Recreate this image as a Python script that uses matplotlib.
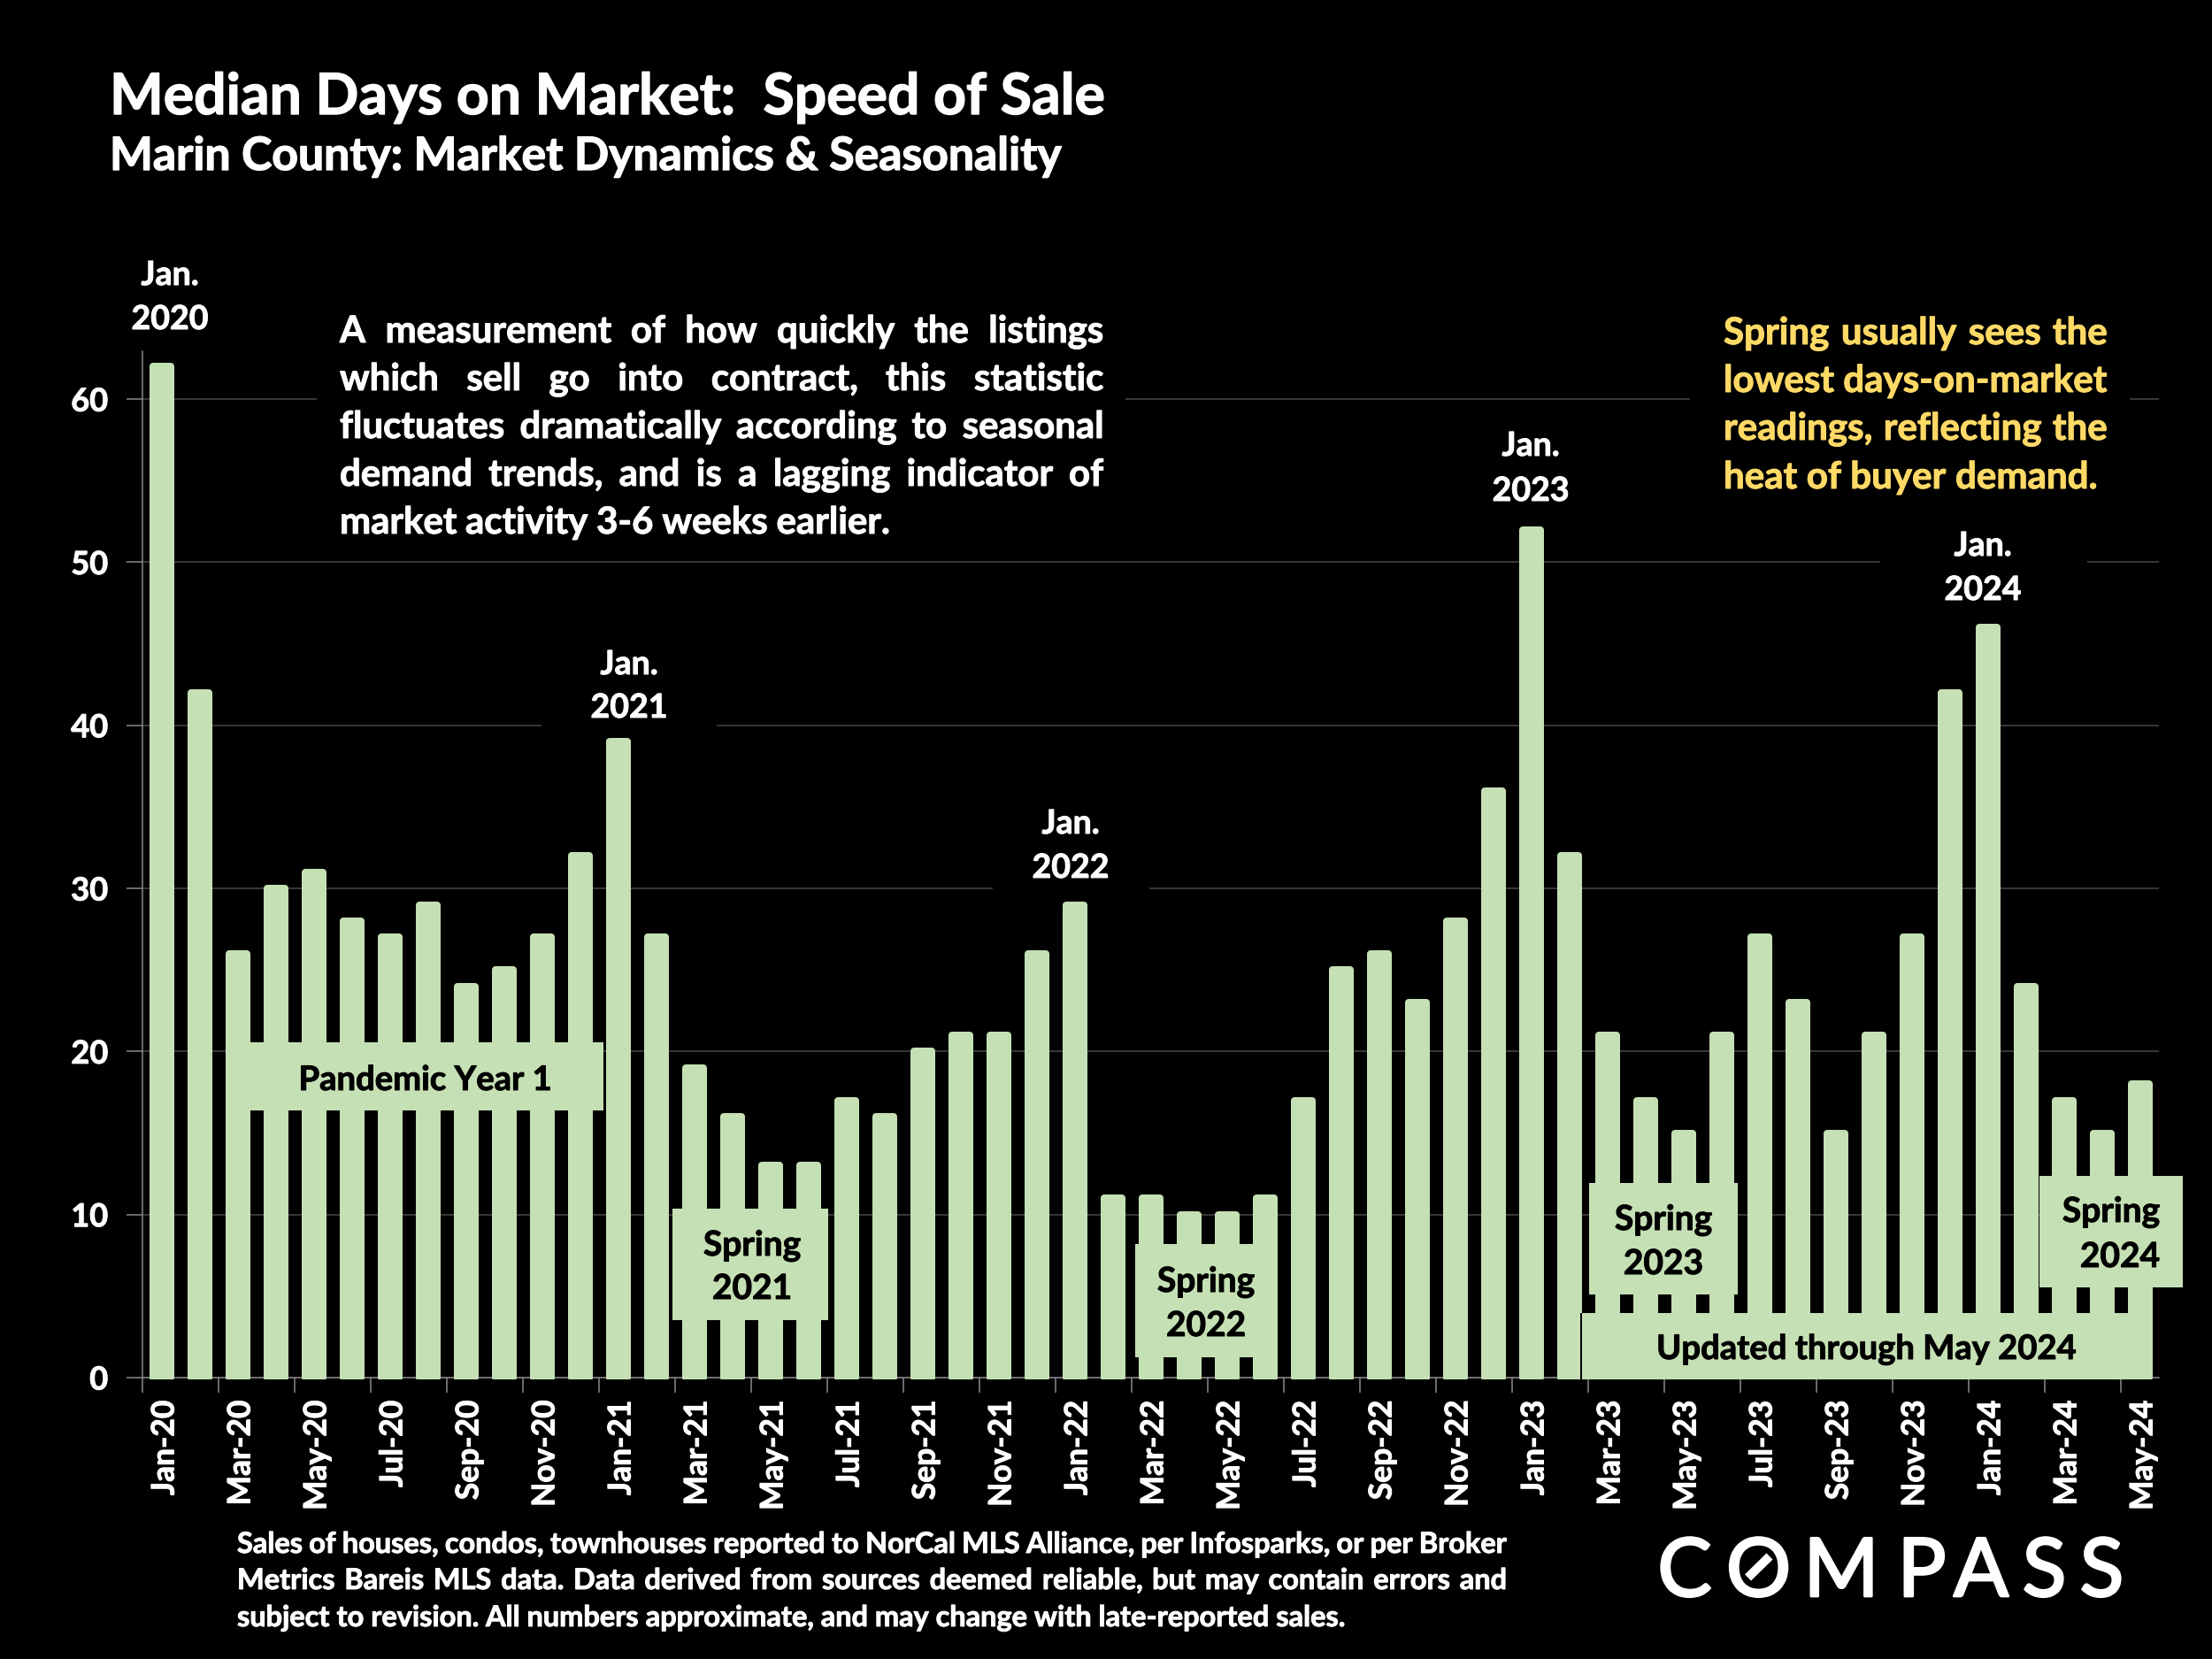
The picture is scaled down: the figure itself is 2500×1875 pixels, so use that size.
import numpy as np
import matplotlib
matplotlib.use("Agg")
import matplotlib.pyplot as plt
import matplotlib.patheffects as pe
from matplotlib.patches import Rectangle
from matplotlib.transforms import Affine2D, Bbox

months = ["Jan-20","Feb-20","Mar-20","Apr-20","May-20","Jun-20","Jul-20","Aug-20","Sep-20","Oct-20","Nov-20","Dec-20",
          "Jan-21","Feb-21","Mar-21","Apr-21","May-21","Jun-21","Jul-21","Aug-21","Sep-21","Oct-21","Nov-21","Dec-21",
          "Jan-22","Feb-22","Mar-22","Apr-22","May-22","Jun-22","Jul-22","Aug-22","Sep-22","Oct-22","Nov-22","Dec-22",
          "Jan-23","Feb-23","Mar-23","Apr-23","May-23","Jun-23","Jul-23","Aug-23","Sep-23","Oct-23","Nov-23","Dec-23",
          "Jan-24","Feb-24","Mar-24","Apr-24","May-24"]
days = [62,42,26,30,31,28,27,29,24,25,27,32,
        39,27,19,16,13,13,17,16,20,21,21,26,
        29,11,11,10,10,11,17,25,26,23,28,36,
        52,32,21,17,15,21,27,23,15,21,27,42,
        46,24,17,15,18]
y_ticks = [0,10,20,30,40,50,60]

BG = "black"; BAR = "#C5E0B4"; GRID = "#4A4A4A"; AXIS = "#8C8C8C"; GOLD = "#FFD966"
W, H = 2500, 1875
plt.rcParams['font.family'] = ['Lato', 'DejaVu Sans']
plt.rcParams['font.weight'] = 'bold'

fig = plt.figure(figsize=(25, 18.75), dpi=100, facecolor=BG)
L, R, T, B = 161, 2440, 397, 1557
ax = fig.add_axes([L/W, 1-B/H, (R-L)/W, (B-T)/H], facecolor=BG)
px = 0.72  # points per pixel at dpi 100

def heavy(c, w=0.7):
    return [pe.withStroke(linewidth=w, foreground=c)]

x = np.arange(len(days))
bars = ax.bar(x+0.01, days, width=0.475, color=BAR, edgecolor=BAR, linewidth=8*px, joinstyle='round', zorder=3)
for b in bars:
    b.set_clip_path(None)
    b.set_clip_box(Bbox([[0, H-1559], [W, H]]))
ax.set_xlim(-0.5, len(days)-0.5)
ax.set_ylim(0, 62.94)
ax.set_yticks(y_ticks)
ax.yaxis.grid(True, color=GRID, linewidth=1.5*px, zorder=0)
ax.set_axisbelow(True)
ax.set_xticks(x[::2]-0.5)
ax.set_xticklabels([])
ax.set_xticks(x[::2], labels=months[::2], minor=True)
ax.tick_params(axis='x', which='major', length=12, width=1.5*px, color=AXIS)
ax.tick_params(axis='x', which='minor', length=0, pad=18.5, labelsize=25.5, labelcolor='white', labelrotation=90)
for t in ax.get_xticklabels(minor=True):
    t.set_va('top'); t.set_ha('center'); t.set_fontweight('bold')
    t.set_path_effects(heavy('white'))
    t.set_transform(t.get_transform() + Affine2D().translate(4, 0))
ax.tick_params(axis='y', length=13, width=1.5*px, color=AXIS, pad=15, labelsize=26, labelcolor='white')
for t in ax.get_yticklabels():
    t.set_fontweight('bold')
    t.set_path_effects(heavy('white'))
for s in ['top','right']:
    ax.spines[s].set_visible(False)
for s in ['left','bottom']:
    ax.spines[s].set_color(AXIS); ax.spines[s].set_linewidth(1.5*px)

# pixel-space overlay
ov = fig.add_axes([0,0,1,1], facecolor='none')
ov.set_xlim(0, W); ov.set_ylim(H, 0); ov.axis('off')
renderer = fig.canvas.get_renderer()

def box(x0, y0, x1, y1, color):
    ov.add_patch(Rectangle((x0,y0), x1-x0, y1-y0, facecolor=color, edgecolor='none', zorder=5))

def txt(x, y, s, size, color='white', ha='left', w=0.7, **kw):
    return ov.text(x, y, s, fontsize=size, color=color, ha=ha, va='baseline', fontweight='bold', zorder=6,
                   path_effects=heavy(color, w), **kw)

def width_of(s, size):
    t = ov.text(0, 0, s, fontsize=size, fontweight='bold')
    wd = t.get_window_extent(renderer).width
    t.remove()
    return wd

def justified(x0, x1, y, line, size, color='white', justify=True):
    words = line.split()
    ws = [width_of(w, size) for w in words]
    if justify and len(words) > 1:
        gap = (x1-x0-sum(ws))/(len(words)-1)
    else:
        gap = width_of("a b", size)-width_of("ab", size)
    cx = x0
    for w, wd in zip(words, ws):
        txt(cx, y, w, size, color)
        cx += wd+gap

# black knock-outs behind annotations
box(358, 345, 1272, 622, BG)
box(1910, 345, 2407, 565, BG)
box(612, 725, 810, 825, BG)
box(1122, 905, 1299, 1009, BG)
box(2125, 590, 2359, 690, BG)

# titles
txt(124, 129, "Median Days on Market:  Speed of Sale", 46.3, w=1.0)
txt(124, 192, "Marin County: Market Dynamics & Seasonality", 37.2, w=1.0)

# January labels
S = 27
for cx, y1, y2, a, b in [(192,322,372,"Jan.","2020"),(711,762,811,"Jan.","2021"),
                         (1210,942,992,"Jan.","2022"),(1730,515,566,"Jan.","2023"),
                         (2241,628,678,"Jan.","2024")]:
    txt(cx, y1, a, S, ha='center'); txt(cx, y2, b, S, ha='center')

# description
desc = ["A measurement of how quickly the listings",
        "which sell go into contract, this statistic",
        "fluctuates dramatically according to seasonal",
        "demand trends, and is a lagging indicator of",
        "market activity 3-6 weeks earlier."]
for i, (l, y) in enumerate(zip(desc, [387,441,495,549,603])):
    justified(384, 1247, y, l, 30.2, justify=i < 4)

spring = ["Spring usually sees the","lowest days-on-market","readings, reflecting the","heat of buyer demand."]
for i, (l, y) in enumerate(zip(spring, [389,443,497,552])):
    justified(1948, 2382, y, l, 30.3, GOLD, justify=i < 3)

# green call-outs
SP = 28
box(257,1178,682,1255,BAR); txt(481,1232,"Pandemic Year 1",27.5,'black',ha='center')
box(760,1366,936,1492,BAR); txt(850,1419,"Spring",SP,'black',ha='center'); txt(850,1468,"2021",SP,'black',ha='center')
box(1283,1406,1444,1534,BAR); txt(1363,1460,"Spring",SP,'black',ha='center'); txt(1363,1510,"2022",SP,'black',ha='center')
box(1796,1337,1964,1463,BAR); txt(1880,1390,"Spring",SP,'black',ha='center'); txt(1880,1440,"2023",SP,'black',ha='center')
box(1786,1484,1788,1559,BG)
box(1788,1484,2432,1559,BAR); txt(2110,1536,"Updated through May 2024",27.5,'black',ha='center')
box(2305,1329,2467,1455,BAR); txt(2441,1381,"Spring",SP,'black',ha='right'); txt(2441,1432,"2024",SP,'black',ha='right')

# footer
foot = ["Sales of houses, condos, townhouses reported to NorCal MLS Alliance, per Infosparks, or per Broker",
        "Metrics Bareis MLS data. Data derived from sources deemed reliable, but may contain errors and",
        "subject to revision. All numbers approximate, and may change with late-reported sales."]
for i, (l, y) in enumerate(zip(foot, [1755,1796,1838])):
    justified(268, 1703, y, l, 23.4, justify=i < 2)

# logo
logo_letters = list("COMPASS")
logo_centers = [1904, 1987.5, 2081, 2172, 2239, 2310.5, 2375.5]
for ch, cx in zip(logo_letters, logo_centers):
    ov.text(cx, 1804, ch, fontsize=66, color='white', ha='center', va='baseline', fontweight='normal',
            path_effects=heavy('white', 2.0), zorder=6)
ov.plot([1975.5, 2000], [1783, 1759], color='white', lw=10*px, solid_capstyle='butt', zorder=6)

fig.savefig("out.png", dpi=100, facecolor=BG)
